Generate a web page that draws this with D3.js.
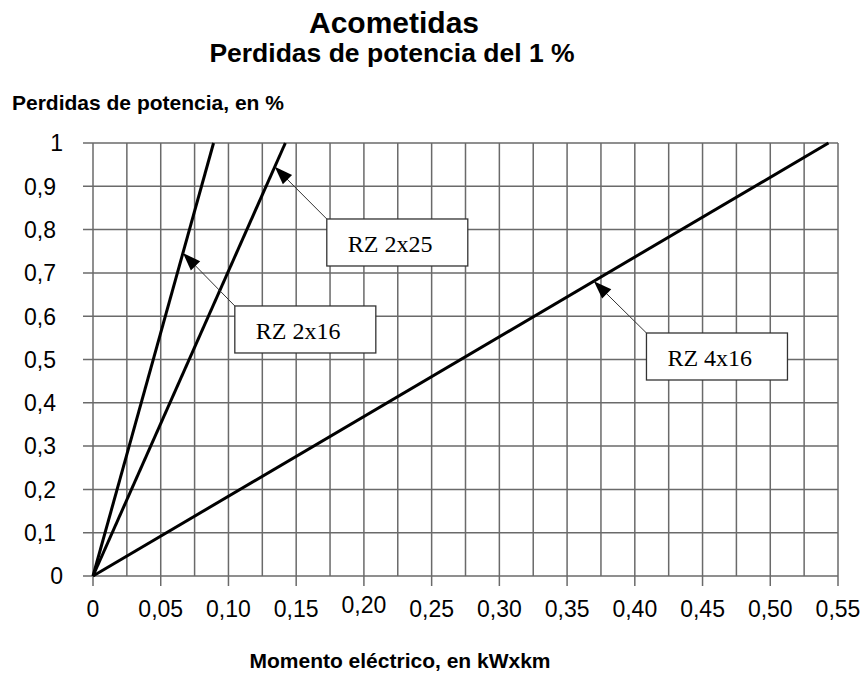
<!DOCTYPE html>
<html>
<head>
<meta charset="utf-8">
<script src="https://cdn.jsdelivr.net/npm/d3@7"></script>
<style>
  html, body { margin: 0; padding: 0; background: #fff; }
  svg { display: block; }
</style>
</head>
<body>
<svg id="chart" width="862" height="675"></svg>
<script>
// ---- data ----
const seriesNames = ["RZ 2x16", "RZ 2x25", "RZ 4x16"];
// momento eléctrico (kW x km) giving 1 % power loss; each line passes through the origin
const momentAt1Pct = [0.089, 0.142, 0.543];
const lossValues = [0, 1];
// point on each line where the label arrow points (loss, %)
const arrowLoss = [0.746, 0.945, 0.681];
// label box top-left corners in data units [moment, loss]
const boxAnchorX = [0.1047, 0.1726, 0.4086];
const boxAnchorY = [0.6236, 0.8245, 0.5612];

const xTickValues = [0, 0.05, 0.10, 0.15, 0.20, 0.25, 0.30, 0.35, 0.40, 0.45, 0.50, 0.55];
const xTickLabels = ["0", "0,05", "0,10", "0,15", "0,20", "0,25", "0,30", "0,35", "0,40", "0,45", "0,50", "0,55"];
const yTickValues = [0, 0.1, 0.2, 0.3, 0.4, 0.5, 0.6, 0.7, 0.8, 0.9, 1];
const yTickLabels = ["0", "0,1", "0,2", "0,3", "0,4", "0,5", "0,6", "0,7", "0,8", "0,9", "1"];
const xMinorValues = d3.range(0, 23).map(i => +(i * 0.025).toFixed(3));

// ---- layout ----
const svg = d3.select("#chart");
const x = d3.scaleLinear().domain([0, 0.55]).range([93, 838]);
const y = d3.scaleLinear().domain([0, 1]).range([576, 143]);
const sans = "'Liberation Sans', Arial, sans-serif";
const serif = "'Liberation Serif', 'Times New Roman', serif";
const gridColor = "#6a6a6a";

// titles
svg.append("text").attr("x", 394).attr("y", 33).attr("text-anchor", "middle")
  .style("font-family", sans).style("font-weight", "bold").style("font-size", "30px")
  .text("Acometidas");
svg.append("text").attr("x", 392).attr("y", 62).attr("text-anchor", "middle")
  .style("font-family", sans).style("font-weight", "bold").style("font-size", "26.5px")
  .text("Perdidas de potencia del 1 %");
svg.append("text").attr("x", 12).attr("y", 110)
  .style("font-family", sans).style("font-weight", "bold").style("font-size", "21px")
  .text("Perdidas de potencia, en %");
svg.append("text").attr("x", 400).attr("y", 668).attr("text-anchor", "middle")
  .style("font-family", sans).style("font-weight", "bold").style("font-size", "21px")
  .text("Momento eléctrico, en kWxkm");

// grid: vertical lines
const grid = svg.append("g").attr("stroke", gridColor).attr("stroke-width", 1.5);
grid.selectAll("line.v").data(xMinorValues).join("line").attr("class", "v")
  .attr("x1", d => x(d)).attr("x2", d => x(d))
  .attr("y1", y(1)).attr("y2", y(0));
// horizontal lines (with outward tick)
grid.selectAll("line.h").data(yTickValues).join("line").attr("class", "h")
  .attr("x1", x(0) - 10).attr("x2", x(0.55))
  .attr("y1", d => y(d)).attr("y2", d => y(d));
// major x ticks downward
grid.selectAll("line.t").data(xTickValues).join("line").attr("class", "t")
  .attr("x1", d => x(d)).attr("x2", d => x(d))
  .attr("y1", y(0)).attr("y2", y(0) + 10);

// tick labels
svg.append("g").selectAll("text").data(xTickValues).join("text")
  .attr("x", d => x(d))
  .attr("y", (d, i) => xTickLabels[i] === "0,20" ? 613 : 617)
  .attr("text-anchor", "middle")
  .style("font-family", sans).style("font-size", "23px")
  .text((d, i) => xTickLabels[i]);
svg.append("g").selectAll("text").data(yTickValues).join("text")
  .attr("x", (d, i) => yTickLabels[i].length === 1 ? 63 : 56)
  .attr("y", d => y(d) + 8.3)
  .attr("text-anchor", "end")
  .style("font-family", sans).style("font-size", "23px")
  .text((d, i) => yTickLabels[i]);

// data lines
const line = d3.line().x(d => x(d[0])).y(d => y(d[1]));
svg.append("g").selectAll("path").data(momentAt1Pct).join("path")
  .attr("d", m => line(lossValues.map(v => [v * m, v])))
  .attr("fill", "none").attr("stroke", "#000").attr("stroke-width", 3);

// annotations
const boxW = 141, boxH = 47;
const ann = svg.append("g");
seriesNames.forEach((name, i) => {
  const tx = x(arrowLoss[i] * momentAt1Pct[i]);
  const ty = y(arrowLoss[i]);
  const bx = x(boxAnchorX[i]);
  const by = y(boxAnchorY[i]);
  ann.append("line").attr("x1", bx).attr("y1", by).attr("x2", tx).attr("y2", ty)
    .attr("stroke", "#333").attr("stroke-width", 1);
  const dx = bx - tx, dy = by - ty, len = Math.hypot(dx, dy);
  const ux = dx / len, uy = dy / len;
  const L = 18, W = 6.5;
  const cx = tx + ux * L, cy = ty + uy * L;
  const pts = [[tx, ty], [cx - uy * W, cy + ux * W], [cx + uy * W, cy - ux * W]];
  ann.append("polygon").attr("points", pts.map(p => p.join(",")).join(" ")).attr("fill", "#000");
  ann.append("rect").attr("x", bx).attr("y", by).attr("width", boxW).attr("height", boxH)
    .attr("fill", "#fff").attr("stroke", "#333").attr("stroke-width", 1.3);
  ann.append("text").attr("x", bx + 21).attr("y", by + 33)
    .style("font-family", serif).style("font-size", "24px")
    .text(name);
});
</script>
</body>
</html>
